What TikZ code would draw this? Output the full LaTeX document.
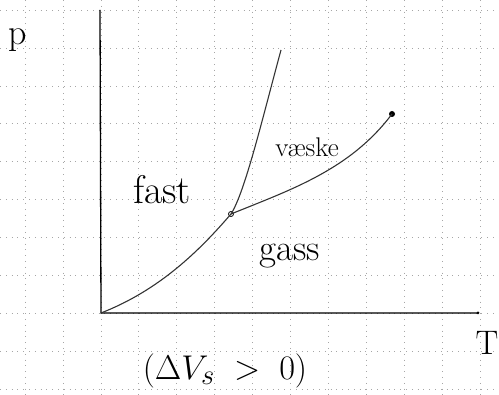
\documentclass[tikz,border=0pt]{standalone}
\usetikzlibrary{calc}
\begin{document}
\begin{tikzpicture}[x=1pt,y=-1pt,
  gridline/.style={draw=black!35, line width=0.5pt, dash pattern=on 0.8pt off 5pt},
  axisline/.style={draw=black, line width=1.3pt},
  curveline/.style={draw=black!80, line width=1.1pt},
  lbl/.style={inner sep=0pt, font=\fontsize{37}{37}\selectfont},
  triplept/.style={circle, draw=black, line width=0.8pt, inner sep=0pt, minimum size=5pt},
  critpt/.style={circle, fill=black, inner sep=0pt, minimum size=6pt}]
\useasboundingbox (0,0) rectangle (499,395);
% grid
\foreach \k in {0,...,12} {
  \draw[gridline] ({25+37.9*\k},0) -- ({25+37.9*\k},395);
}
\foreach \k in {0,...,10} {
  \draw[gridline] (0,{10+37.9*\k}) -- (499,{10+37.9*\k});
}
% axes
\coordinate (O) at (101,313);
\coordinate (ptop) at (100,10);
\coordinate (tend) at (478,313);
\draw[axisline] (ptop) -- (O) -- (tend);
\fill (tend) circle (1.5pt);
% points
\node[triplept] (TP) at (231,214) {};
\node[critpt] (CP) at (392,114) {};
\coordinate (Mtop) at (281,50);
% curves
\draw[curveline] (O) .. controls (160,290) and (200,250) .. (TP.center);
\draw[curveline] (TP.center) .. controls (245,192) and (262,120) .. (Mtop);
\draw[curveline] (TP.center) .. controls (290,190) and (350,170) .. (CP.center);
% labels
\node[lbl, font=\fontsize{36}{36}\selectfont] (p) at (18,40) {p};
\node[lbl, font=\fontsize{40}{40}\selectfont] (fast) at (162,190) {fast};
\node[lbl, font=\fontsize{27}{27}\selectfont] (vaeske) at (307,147) {væske};
\node[lbl] (gass) at (290,256) {gass};
\node[lbl, font=\fontsize{34}{34}\selectfont] (T) at (487,343) {T};
\node[lbl, font=\fontsize{24.88}{25}\selectfont] (dv) at (225,371) {\scalebox{1.38}{$(\Delta V_s \;>\; 0)$}};
\end{tikzpicture}
\end{document}
